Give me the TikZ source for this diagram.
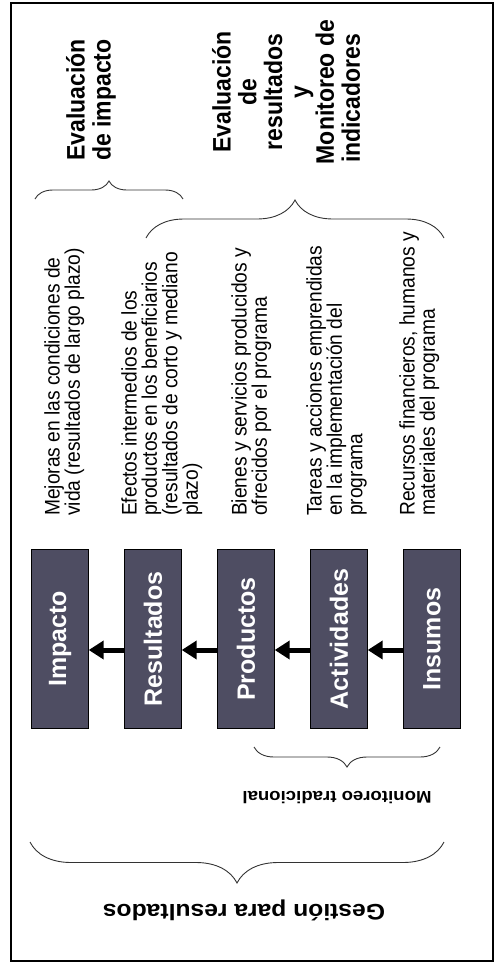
\documentclass[tikz,border=0pt]{standalone}
\usepackage{fontspec}
\setmainfont{Liberation Sans}
\usetikzlibrary{arrows.meta,decorations.pathreplacing}

\definecolor{boxgray}{RGB}{78,77,98}

\begin{document}
\begin{tikzpicture}[x=1pt,y=-1pt,
  blk/.style={draw=black,fill=boxgray,text=white,rotate=90,minimum width=179pt,
    minimum height=57pt,inner sep=0pt,font=\fontsize{25}{30}\selectfont\bfseries},
  desc/.style={xscale=1.1,rotate=90,align=left,anchor=north west,inner sep=0pt,
    font=\fontsize{19.2}{18.6}\selectfont},
  ttl/.style={xscale=1.1,rotate=90,inner sep=0pt,font=\fontsize{23}{23.5}\selectfont\bfseries},
  flow/.style={line width=5pt,-{Triangle[length=15pt,width=18pt]}},
  brc/.style={decorate,decoration={brace,amplitude=#1},line width=0.9pt,draw=black!80}]
\useasboundingbox (0,0) rectangle (497,969);

% frame
\draw[line width=1.8pt] (11,3) rectangle (493,961);

% chain of boxes
\node[blk] (imp) at (60,639) {Impacto};
\node[blk] (res) at (153,639) {Resultados};
\node[blk] (pro) at (246,639) {Productos};
\node[blk] (act) at (339,639) {Actividades};
\node[blk] (ins) at (432,639) {Insumos};

\draw[flow] ([yshift=-11pt]ins.north) -- ([yshift=-11pt]act.south);
\draw[flow] ([yshift=-11pt]act.north) -- ([yshift=-11pt]pro.south);
\draw[flow] ([yshift=-11pt]pro.north) -- ([yshift=-11pt]res.south);
\draw[flow] ([yshift=-11pt]res.north) -- ([yshift=-11pt]imp.south);

% descriptions
\node[desc] (dimp) at (44,516) {Mejoras en las condiciones de\\vida (resultados de largo plazo)};
\node[desc] (dres) at (121,516) {Efectos intermedios de los\\productos en los beneficiarios\\(resultados de corto y mediano\\plazo)};
\node[desc] (dpro) at (231,516) {Bienes y servicios producidos y\\ofrecidos por el programa};
\node[desc] (dact) at (306,516) {Tareas y acciones emprendidas\\en la implementación del\\programa};
\node[desc] (dins) at (399,516) {Recursos financieros, humanos y\\materiales del programa};

% braces
\coordinate (b1a) at (35,199);
\coordinate (b1b) at (183,199);
\coordinate (b2a) at (146,238);
\coordinate (b2b) at (444,238);
\coordinate (b3a) at (440,747);
\coordinate (b3b) at (254,747);
\coordinate (b4a) at (444,842);
\coordinate (b4b) at (30,842);
\draw[brc=18pt] (b1a) -- (b1b);
\draw[brc=38pt] (b2a) -- (b2b);
\draw[brc=20pt] (b3a) -- (b3b);
\draw[brc=41pt] (b4a) -- (b4b);

% labels
\node[ttl,align=left] (eimp) at (91,100) {Evaluación\\de impacto};
\node[ttl,align=center] (eres) at (286,92) {Evaluación\\de\\resultados\\y\\Monitoreo de\\indicadores\hphantom{e}};
\node[xscale=1.1,rotate=180,inner sep=0pt,font=\fontsize{16.9}{20}\selectfont\bfseries] (mtr) at (337,798) {Monitoreo tradicional};
\node[xscale=1.1,rotate=180,inner sep=0pt,font=\fontsize{22.4}{26}\selectfont\bfseries] (gpr) at (244,910) {Gestión para resultados};
\end{tikzpicture}
\end{document}
